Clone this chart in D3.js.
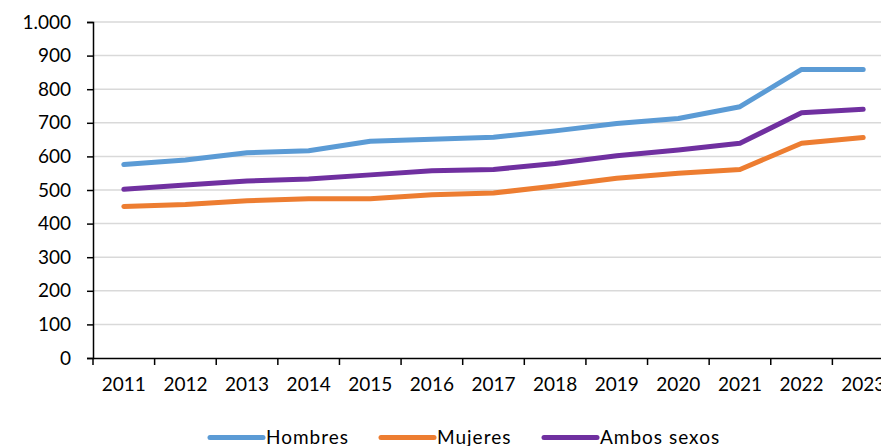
<!DOCTYPE html>
<html><head><meta charset="utf-8">
<script src="https://cdn.jsdelivr.net/npm/d3@7"></script>
<style>body{margin:0;background:#fff;overflow:hidden}svg{display:block}</style>
</head><body>
<svg id="c" width="881" height="446"></svg>
<script>
const years = ["2011","2012","2013","2014","2015","2016","2017","2018","2019","2020","2021","2022","2023"];
const hombres = [576, 589, 611, 617, 645, 651, 657, 676, 698, 713, 748, 859, 859];
const mujeres = [451, 457, 468, 474, 474, 486, 491, 512, 535, 550, 561, 639, 656];
const ambos = [502, 515, 527, 533, 545, 557, 561, 579, 602, 619, 639, 730, 740];
const seriesNames = ["Hombres", "Mujeres", "Ambos sexos"];
const colors = ["#5B9BD5", "#ED7D31", "#7030A0"];
const yTicks = [0,100,200,300,400,500,600,700,800,900,1000];

(function(){
const svg = d3.select("#c");
const font = "Lato, 'Open Sans', sans-serif";
const mL = 93, mT = 22, mB = 358, mR = 894;
const x = d3.scaleBand().domain(years).range([mL, mR]);
const y = d3.scaleLinear().domain([0, 1000]).range([mB, mT]);
const fmt = d3.formatLocale({decimal: ",", thousands: ".", grouping: [3], currency: ["", "€"]}).format(",");

svg.append("g").selectAll("line").data(yTicks.filter(d => d > 0)).join("line")
  .attr("x1", mL).attr("x2", mR).attr("y1", d => y(d)).attr("y2", d => y(d))
  .attr("stroke", "#d9d9d9").attr("stroke-width", 1.5);

const ya = svg.append("g").attr("transform", `translate(${mL},0)`)
  .call(d3.axisLeft(y).tickValues(yTicks).tickFormat(fmt).tickSize(6).tickPadding(16));
ya.select(".domain").attr("stroke", "#000").attr("stroke-width", 1.5);
ya.selectAll(".tick line").attr("stroke", "#000").attr("stroke-width", 1.5);
ya.selectAll("text").attr("font-family", font).attr("font-size", 19).attr("fill", "#000");

const xa = svg.append("g").attr("transform", `translate(0,${mB})`)
  .call(d3.axisBottom(x).tickSize(0).tickPadding(20));
xa.select(".domain").attr("stroke", "#000").attr("stroke-width", 1.5);
xa.selectAll("text").attr("font-family", font).attr("font-size", 19).attr("fill", "#000");
svg.append("g").selectAll("line").data(years).join("line")
  .attr("x1", d => x(d)).attr("x2", d => x(d)).attr("y1", mB).attr("y2", mB + 7)
  .attr("stroke", "#000").attr("stroke-width", 1.5);

const data = [hombres, mujeres, ambos];
const line = d3.line().x((d, i) => x(years[i]) + x.bandwidth() / 2).y(d => y(d));
data.forEach((s, k) => {
  svg.append("path").datum(s).attr("d", line).attr("fill", "none")
    .attr("stroke", colors[k]).attr("stroke-width", 5)
    .attr("stroke-linecap", "round").attr("stroke-linejoin", "round");
});

const legX = [210, 381, 544];
const lg = svg.append("g");
seriesNames.forEach((n, k) => {
  lg.append("line").attr("x1", legX[k]).attr("x2", legX[k] + 53).attr("y1", 437.5).attr("y2", 437.5)
    .attr("stroke", colors[k]).attr("stroke-width", 5).attr("stroke-linecap", "round");
  lg.append("text").attr("x", legX[k] + 56).attr("y", 443.5).text(n)
    .attr("font-family", font).attr("font-size", 19).attr("letter-spacing", 1).attr("fill", "#000");
});
})();
</script>
</body></html>
